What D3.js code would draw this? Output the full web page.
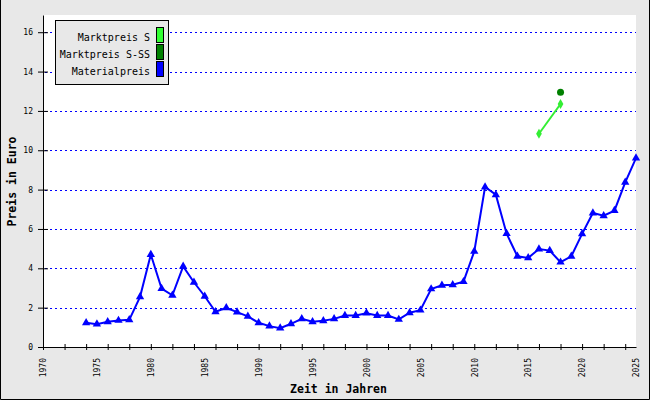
<!DOCTYPE html>
<html><head><meta charset="utf-8">
<script src="https://cdn.jsdelivr.net/npm/d3@7"></script>
<style>body{margin:0;background:#fff}svg{display:block}text{font-family:"DejaVu Sans Mono","Liberation Mono",monospace}</style>
</head><body><div id="c"></div>
<script>
const matYears = d3.range(1974, 2026);
const matValues = [1.23,1.16,1.28,1.35,1.38,2.55,4.70,2.97,2.63,4.10,3.29,2.58,1.79,1.99,1.77,1.56,1.23,1.06,
  0.96,1.18,1.43,1.28,1.33,1.43,1.60,1.60,1.72,1.60,1.60,1.40,1.74,1.87,2.95,3.14,3.16,3.32,
  4.86,8.13,7.74,5.76,4.61,4.53,4.98,4.90,4.31,4.61,5.75,6.81,6.67,6.93,8.37,9.60];
const sYears = [2016, 2018];
const sValues = [10.84, 12.35];
const ssYears = [2018];
const ssValues = [12.95];
const yTicks = [0,2,4,6,8,10,12,14,16];
const xTickYears = d3.range(1970, 2025, 2);
const xLabelYears = [1970,1975,1980,1985,1990,1995,2000,2005,2010,2015,2020,2025];
const legendNames = ["Marktpreis S","Marktpreis S-SS","Materialpreis"];
const legendColors = ["#33ff33","#008000","#0000ff"];

const W=650,H=400;
const svg=d3.select("#c").append("svg").attr("width",W).attr("height",H);
svg.append("rect").attr("width",W).attr("height",H).attr("fill","#e8e8e8");
svg.append("path").attr("d","M0.5,0V399.5H649.5V0").attr("fill","none").attr("stroke","#000").attr("stroke-width",1);

const x=d3.scaleLinear().domain([1970,2025]).range([43,636]);
const y=d3.scaleLinear().domain([0,16.875]).range([347,15]);

svg.append("rect").attr("x",43).attr("y",15).attr("width",593).attr("height",333).attr("fill","#fff");

// grid
svg.append("g").selectAll("line").data(yTicks.filter(d=>d>0)).join("line")
  .attr("x1",45).attr("x2",636).attr("y1",d=>Math.round(y(d))+0.5).attr("y2",d=>Math.round(y(d))+0.5)
  .attr("stroke","#0000ff").attr("stroke-width",1).attr("stroke-dasharray","2,3");

// axes (ticks crossing the axis line)
const gy=svg.append("g").attr("transform","translate(43,0)")
  .call(d3.axisLeft(y).tickValues(yTicks).tickSizeInner(5).tickSizeOuter(0).tickPadding(5).tickFormat(d3.format("d")));
svg.append("g").attr("transform","translate(43,0)")
  .call(d3.axisRight(y).tickValues(yTicks).tickSizeInner(5).tickSizeOuter(0).tickFormat(""))
  .select(".domain").remove();
const gx=svg.append("g").attr("transform","translate(0,347)")
  .call(d3.axisBottom(x).tickValues(xTickYears).tickSizeInner(3).tickSizeOuter(0).tickFormat(""));
svg.append("g").attr("transform","translate(0,347)")
  .call(d3.axisTop(x).tickValues(xTickYears).tickSizeInner(3).tickSizeOuter(0).tickFormat(""))
  .select(".domain").remove();
gy.selectAll("text").attr("font-family","DejaVu Sans Mono").attr("font-size",8).attr("fill","#000");
svg.selectAll(".domain, .tick line").attr("stroke","#000");

svg.append("g").selectAll("text").data(xLabelYears).join("text")
  .attr("transform",d=>`translate(${x(d)+0.5},358) rotate(-90)`).attr("dy","0.35em").attr("text-anchor","end")
  .attr("font-size",8).text(d=>d);

svg.append("text").attr("x",338.5).attr("y",393).attr("text-anchor","middle")
  .attr("font-size",11.5).attr("font-weight","bold").text("Zeit in Jahren");
svg.append("text").attr("transform","translate(16,181.5) rotate(-90)").attr("text-anchor","middle")
  .attr("font-size",11.5).attr("font-weight","bold").text("Preis in Euro");

// series
const line=d3.line().x(d=>x(d[0])).y(d=>y(d[1]));
const mat=matYears.map((d,i)=>[d,matValues[i]]);
svg.append("path").attr("d",line(mat)).attr("fill","none").attr("stroke","#0000ff").attr("stroke-width",2);
const tri=d3.symbol().type(d3.symbolTriangle).size(30);
svg.append("g").selectAll("path").data(mat).join("path")
  .attr("transform",d=>`translate(${x(d[0])},${y(d[1])})`).attr("d",tri()).attr("fill","#0000ff");

const s=sYears.map((d,i)=>[d,sValues[i]]);
svg.append("path").attr("d",line(s)).attr("fill","none").attr("stroke","#33ee33").attr("stroke-width",2);
const dia=d3.symbol().type(d3.symbolDiamond).size(28);
svg.append("g").selectAll("path").data(s).join("path")
  .attr("transform",d=>`translate(${x(d[0])},${y(d[1])})`).attr("d",dia()).attr("fill","#33ee33");

const ss=ssYears.map((d,i)=>[d,ssValues[i]]);
svg.append("g").selectAll("circle").data(ss).join("circle")
  .attr("cx",d=>x(d[0])).attr("cy",d=>y(d[1])).attr("r",3.5).attr("fill","#008000");

// legend
const lg=svg.append("g");
lg.append("rect").attr("x",55.5).attr("y",20.5).attr("width",113).attr("height",64).attr("fill","#e8e8e8").attr("stroke","#000");
const rows=lg.selectAll("g").data(legendNames).join("g").attr("transform",(d,i)=>`translate(0,${i*17})`);
rows.append("text").attr("x",150).attr("y",40.5).attr("text-anchor","end").attr("font-size",10).text(d=>d);
rows.append("rect").attr("x",156.5).attr("y",27.5).attr("width",7).attr("height",15)
  .attr("fill",(d,i)=>legendColors[i]).attr("stroke","#000");
</script></body></html>
